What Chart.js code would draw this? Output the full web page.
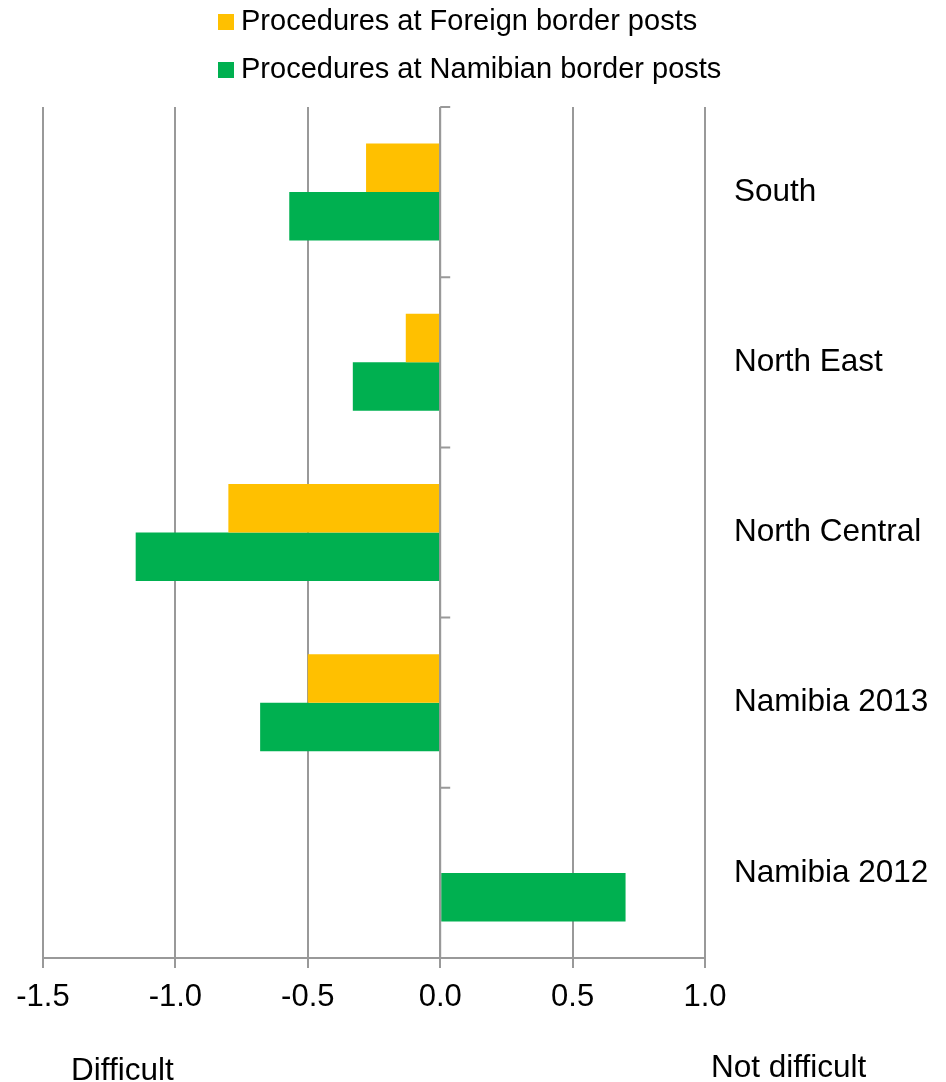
<!DOCTYPE html>
<html>
<head>
<meta charset="utf-8">
<title>Border procedures</title>
<script src="https://cdn.jsdelivr.net/npm/chart.js@4/dist/chart.umd.min.js"></script>
<style>
  body { margin: 0; background: #fff; }
  canvas { display: block; }
</style>
</head>
<body>
<canvas id="borderChart" width="946" height="1082"></canvas>
<script>
'use strict';

const regions = ['South', 'North East', 'North Central', 'Namibia 2013', 'Namibia 2012'];
const foreignPosts = [-0.28, -0.13, -0.80, -0.50, null];
const namibianPosts = [-0.57, -0.33, -1.15, -0.68, 0.70];
const xTicks = [-1.5, -1.0, -0.5, 0.0, 0.5, 1.0];
const seriesNames = ['Procedures at Foreign border posts', 'Procedures at Namibian border posts'];
const endLabels = ['Difficult', 'Not difficult'];

const FONT = '"Liberation Sans", Arial, sans-serif';
const GRID = '#999999';

// zero axis with little ticks between the regions, legend and the two end captions
const extras = {
  id: 'extras',
  afterDatasetsDraw(chart) {
    const { ctx, chartArea, scales: { x, y } } = chart;
    const x0 = x.getPixelForValue(0);
    ctx.save();
    ctx.strokeStyle = GRID;
    ctx.lineWidth = 2;
    ctx.beginPath();
    ctx.moveTo(x0, chartArea.top);
    ctx.lineTo(x0, chartArea.bottom);
    for (let i = 0; i <= regions.length; i++) {
      const yy = y.getPixelForValue(i - 0.5);
      ctx.moveTo(x0, yy);
      ctx.lineTo(x0 + 10, yy);
    }
    ctx.stroke();
    ctx.restore();
  },
  afterDraw(chart) {
    const { ctx } = chart;
    ctx.save();
    ctx.textBaseline = 'middle';
    ctx.font = '29px ' + FONT;
    chart.data.datasets.forEach((ds, i) => {
      const cy = 22 + i * 48;
      ctx.fillStyle = ds.backgroundColor;
      ctx.fillRect(218, cy - 8, 16, 16);
      ctx.fillStyle = '#000';
      ctx.fillText(ds.label, 241, cy);
    });
    ctx.font = '31.5px ' + FONT;
    ctx.textBaseline = 'alphabetic';
    ctx.fillText(endLabels[0], 71, 1080);
    ctx.fillText(endLabels[1], 711, 1077);
    ctx.restore();
  }
};

const ctx = document.getElementById('borderChart').getContext('2d');
new Chart(ctx, {
  type: 'bar',
  data: {
    labels: regions,
    datasets: [{
      label: seriesNames[0],
      data: foreignPosts,
      backgroundColor: '#FFC000',
    }, {
      label: seriesNames[1],
      data: namibianPosts,
      backgroundColor: '#00B050',
    }],
  },
  options: {
    responsive: false,
    animation: false,
    indexAxis: 'y',
    categoryPercentage: 0.57,
    barPercentage: 1.0,
    layout: { padding: { top: 107, left: 43, right: 0, bottom: 0 } },
    plugins: {
      legend: { display: false },
      tooltip: { enabled: false },
    },
    scales: {
      x: {
        min: -1.5,
        max: 1.0,
        afterBuildTicks: s => { s.ticks = xTicks.map(v => ({ value: v })); },
        afterFit: s => { s.height = 124; },
        grid: { color: GRID, lineWidth: 2, tickLength: 10 },
        border: { color: GRID, width: 2 },
        ticks: {
          color: '#000',
          font: { family: FONT, size: 31 },
          padding: 11,
          maxRotation: 0,
          callback: v => v.toFixed(1),
        },
      },
      y: {
        position: 'right',
        afterFit: s => { s.width = 241; },
        grid: { display: false },
        border: { display: false },
        ticks: {
          color: '#000',
          font: { family: FONT, size: 31.5 },
          padding: 21,
        },
      },
    },
  },
  plugins: [extras],
});
</script>
</body>
</html>
